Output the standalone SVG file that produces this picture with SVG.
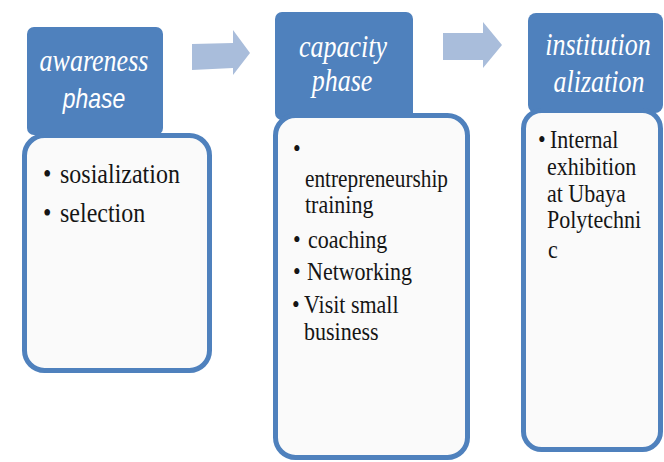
<svg xmlns="http://www.w3.org/2000/svg" width="664" height="462" viewBox="0 0 664 462">
<style>
.hdr{fill:#4F81BD}
.box{fill:#FAFAFA;stroke:#4F81BD;stroke-width:5}
.arr{fill:#A9BDDB}
.ht{font-family:"Liberation Serif","Times New Roman",serif;font-style:italic;font-size:26px;fill:#FFFFFF;text-anchor:middle}
.hs{font-family:"Liberation Sans",Arial,sans-serif;font-style:italic;font-size:23px;fill:#FFFFFF;text-anchor:middle}
.b1{font-family:"Liberation Serif","Times New Roman",serif;font-size:24px;fill:#151515}
.b2{font-family:"Liberation Serif","Times New Roman",serif;font-size:22px;fill:#151515}
</style>
<rect width="664" height="462" fill="#FFFFFF"/>
<g id="connectors">
<polygon class="arr" points="192,44 233,43 233,30 250,53 233,75 233,68 192,70"/>
<polygon class="arr" points="443,33 483,33 483,22 502,45 483,68 483,60 443,60"/>
</g>
<g id="awareness">
<rect class="hdr" x="27" y="27" width="136" height="108" rx="7"/>
<rect class="box" x="24.5" y="135.5" width="185" height="235" rx="20"/>
<text class="ht" transform="translate(94,71) scale(1,1.2)">awareness</text>
<text class="hs" transform="translate(94,108) scale(1,1.2)">phase</text>
<text class="b1" transform="translate(43,183) scale(1,1.12)">•</text>
<text class="b1" transform="translate(60,183) scale(1,1.12)">sosialization</text>
<text class="b1" transform="translate(43,222) scale(1,1.12)">•</text>
<text class="b1" transform="translate(60,222) scale(1,1.12)">selection</text>
</g>
<g id="capacity">
<rect class="hdr" x="275" y="12" width="138" height="108" rx="7"/>
<rect class="box" x="275.5" y="115.5" width="192" height="342" rx="20"/>
<text class="ht" transform="translate(343,57) scale(1,1.2)">capacity</text>
<text class="ht" transform="translate(342,91) scale(1,1.2)">phase</text>
<text class="b2" transform="translate(293,157) scale(1,1.1)">•</text>
<text class="b2" transform="translate(305,187) scale(1,1.1)" textLength="143" lengthAdjust="spacingAndGlyphs">entrepreneurship</text>
<text class="b2" transform="translate(305,213) scale(1,1.1)">training</text>
<text class="b2" transform="translate(293,248) scale(1,1.1)">•</text>
<text class="b2" transform="translate(308,248) scale(1,1.1)">coaching</text>
<text class="b2" transform="translate(293,280) scale(1,1.1)">•</text>
<text class="b2" transform="translate(307,280) scale(1,1.1)">Networking</text>
<text class="b2" transform="translate(292,313) scale(1,1.1)">•</text>
<text class="b2" transform="translate(304,313) scale(1,1.1)">Visit small</text>
<text class="b2" transform="translate(304,340) scale(1,1.1)">business</text>
</g>
<g id="institutionalization">
<rect class="hdr" x="528" y="13" width="135" height="100" rx="8"/>
<rect class="box" x="523.5" y="110.5" width="137" height="339" rx="18"/>
<text class="ht" transform="translate(598,55) scale(1,1.2)">institution</text>
<text class="ht" transform="translate(599,92) scale(1,1.2)">alization</text>
<text class="b2" transform="translate(538,148) scale(1,1.1)">•</text>
<text class="b2" transform="translate(550,148) scale(1,1.1)">Internal</text>
<text class="b2" transform="translate(547,175) scale(1,1.1)">exhibition</text>
<text class="b2" transform="translate(547,202) scale(1,1.1)">at Ubaya</text>
<text class="b2" transform="translate(547,228) scale(1,1.1)">Polytechni</text>
<text class="b2" transform="translate(548,258) scale(1,1.1)">c</text>
</g>
</svg>
